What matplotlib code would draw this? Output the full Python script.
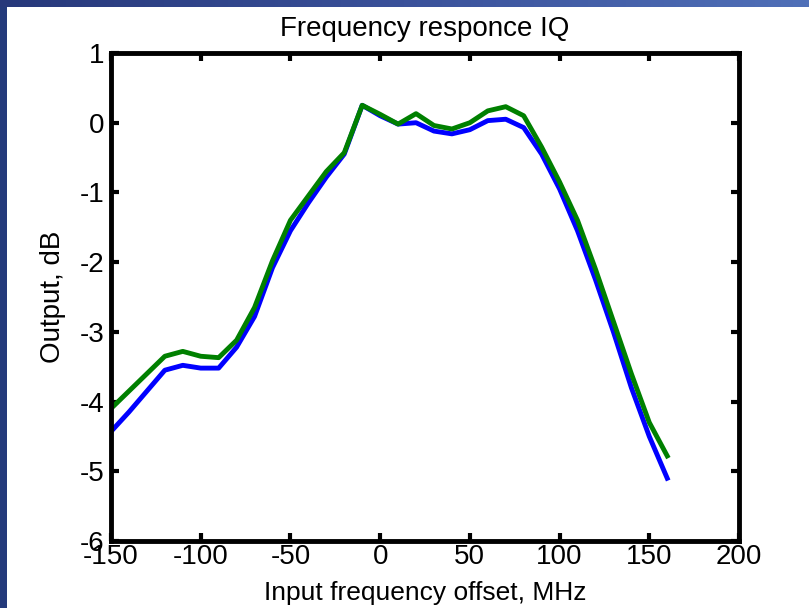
import numpy as np
import matplotlib
matplotlib.use("Agg")
from matplotlib import pyplot as plt
from matplotlib.colors import LinearSegmentedColormap

plt.rcParams['font.family'] = ['Liberation Sans', 'DejaVu Sans']

# data (MHz, dB)
freq = [-150, -140, -130, -120, -110, -100, -90, -80, -70, -60, -50, -40,
        -30, -20, -10, 0, 10, 20, 30, 40, 50, 60, 70, 80, 90, 100, 110,
        120, 130, 140, 150, 160]
resp_blue = [-4.43, -4.15, -3.85, -3.55, -3.48, -3.52, -3.52, -3.22, -2.78,
             -2.08, -1.55, -1.15, -0.78, -0.45, 0.25, 0.10, -0.02, 0.0,
             -0.12, -0.16, -0.10, 0.03, 0.05, -0.07, -0.45, -0.95, -1.55,
             -2.25, -3.0, -3.8, -4.5, -5.1]
resp_green = [-4.1, -3.85, -3.6, -3.35, -3.28, -3.35, -3.37, -3.12, -2.65,
              -1.98, -1.40, -1.05, -0.70, -0.43, 0.25, 0.12, -0.02, 0.13,
              -0.04, -0.09, 0.0, 0.17, 0.23, 0.1, -0.35, -0.85, -1.4,
              -2.1, -2.85, -3.6, -4.3, -4.78]
xticks = [-150, -100, -50, 0, 50, 100, 150, 200]
yticks = [-6, -5, -4, -3, -2, -1, 0, 1]

fig = plt.figure(figsize=(8.09, 6.08), dpi=100, facecolor='white')

# slide frame: navy strip on the left, gradient band on top
left = fig.add_axes([0, 0, 7 / 809, 1])
left.set_axis_off()
left.add_patch(plt.Rectangle((0, 0), 1, 1, color='#243a7b', transform=left.transAxes))

top = fig.add_axes([0, 1 - 7 / 608, 1, 7 / 608])
cmap = LinearSegmentedColormap.from_list('band', ['#27387a', '#3a519a', '#5070b8'])
top.imshow(np.linspace(0, 1, 256)[None, :], aspect='auto', cmap=cmap,
           extent=[0, 1, 0, 1])
top.set_axis_off()

ax = fig.add_axes([111 / 809, 1 - 541 / 608, 628 / 809, 488 / 608])
ax.plot(freq, resp_blue, color='#0000ff', lw=3.5)
ax.plot(freq, resp_green, color='#008000', lw=3.5)

ax.set_xlim(-150, 200)
ax.set_ylim(-6, 1)
ax.set_xticks(xticks)
ax.set_yticks(yticks)
ax.set_xticklabels([str(t) for t in xticks])
ax.set_yticklabels([str(t) for t in yticks])
ax.tick_params(direction='in', length=6, width=3, labelsize=20,
               top=True, right=True)
ax.tick_params(axis='x', pad=2)
ax.tick_params(axis='y', pad=5)
for s in ax.spines.values():
    s.set_linewidth(3.5)

ax.set_title('Frequency responce IQ', fontsize=20, pad=12)
ax.set_xlabel('Input frequency offset, MHz', fontsize=19)
ax.set_ylabel('Output, dB', fontsize=20)
ax.xaxis.set_label_coords(0.5, -0.082)
ax.yaxis.set_label_coords(-0.072, 0.5)

fig.savefig('out.png', dpi=100, facecolor='white')
